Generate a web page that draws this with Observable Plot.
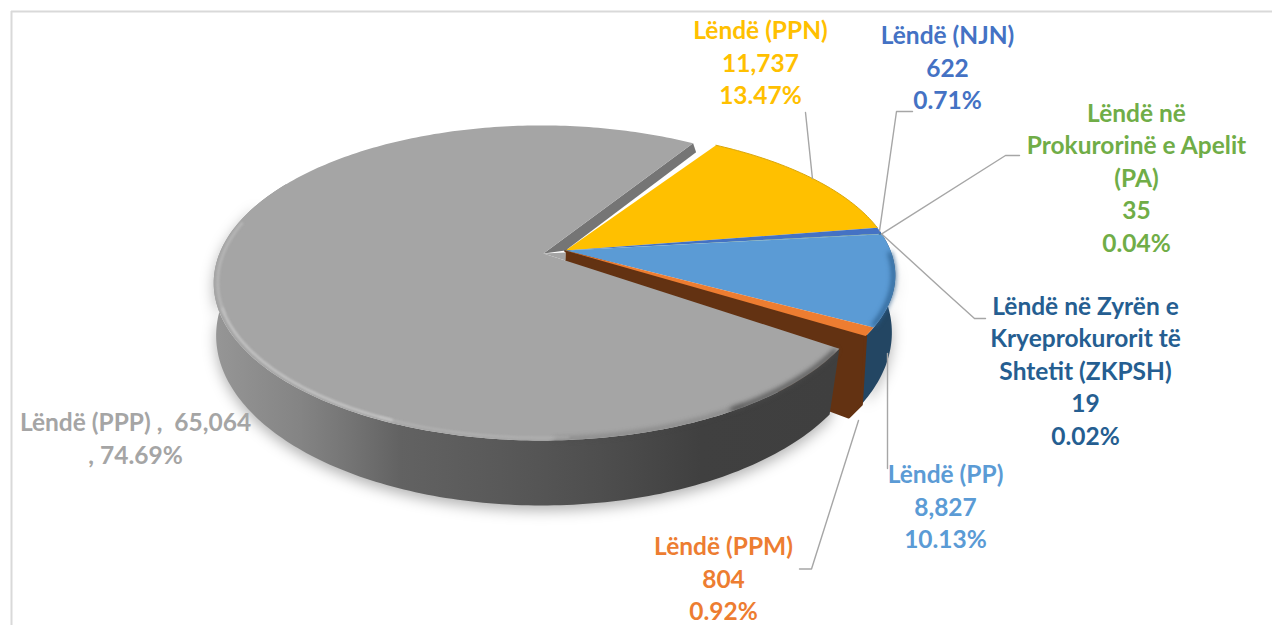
<!DOCTYPE html>
<html>
<head>
<meta charset="utf-8">
<script src="https://cdn.jsdelivr.net/npm/d3@7"></script>
<script src="https://cdn.jsdelivr.net/npm/@observablehq/plot@0.6"></script>
<style>
html,body{margin:0;padding:0;background:#fff;overflow:hidden}
.blur1{filter:blur(1.3px)}
.blur2{filter:blur(2.6px)}
.blur8{filter:blur(7px)}
</style>
</head>
<body>
<div id="chart"></div>
<script>
// ---- data
const names = ["Lëndë (PPN)", "Lëndë (NJN)", "Lëndë në\nProkurorinë e Apelit\n(PA)", "Lëndë në Zyrën e\nKryeprokurorit të\nShtetit (ZKPSH)", "Lëndë (PP)", "Lëndë (PPM)", "Lëndë (PPP)"];
const values = [11737, 622, 35, 19, 8827, 804, 65064];
const colors = ["#ffc000", "#4472c4", "#70ad47", "#255e91", "#5b9bd5", "#ed7d31", "#a5a5a5"];

// ---- layout
const firstAngle = 32;
const labelX = [760, 947, 1136, 1085, 945, 723, 135];
const labelY = [61, 66, 176, 369, 505, 577, 436.5];
const W = 1272, H = 625;
const top3d = {r: 322, s: 152, k: 0.187, dx: -2, dy: 0};
const right3d = {r: 325, s: 142, k: 0.17, dx: 0, dy: 0};
const bot3d = {r: 322.6, s: 167, k: 0.13, dx: -2, dy: 60};
const botRight3d = {...bot3d, dx: 1};
const apexRight = [565, 250];
const apexGrey = [543, 253];

const total = d3.sum(values);
let acc = firstAngle;
const slices = values.map((v, i) => {
  const a0 = acc; acc += v / total * 360;
  return {i, v, a0, a1: acc, color: colors[i]};
});

function proj(deg, rho, apex, m) {
  const t = deg * Math.PI / 180, u = rho * Math.sin(t), v = -rho * Math.cos(t), w = 1 - m.k * v;
  return {x: apex[0] + m.dx + m.r * u / w, y: apex[1] + m.dy + m.s * v / w};
}
function arc(a0, a1, apex, m, rho = 1) {
  const n = Math.max(2, Math.ceil(Math.abs(a1 - a0)));
  return d3.range(n + 1).map(j => proj(a0 + (a1 - a0) * j / n, rho, apex, m));
}
const poly = (pts, fill, extra = {}) => Plot.line(pts, {x: "x", y: "y", fill, stroke: "none", ...extra});
const curve = (pts, stroke, strokeWidth, extra = {}) => Plot.line(pts, {x: "x", y: "y", stroke, strokeWidth, ...extra});
const topSlice = (s, apex) => [{x: apex[0], y: apex[1]}, ...arc(s.a0, s.a1, apex, right3d)];
const sideBand = (a0, a1, apex, m = top3d, b = bot3d) => [...arc(a0, a1, apex, m), ...arc(a1, a0, apex, b)];

const grey = slices[6], pp = slices[4], ppm = slices[5];
const greyStart = grey.a0 + 1, greySideEnd = 300;
const greyEnd = grey.a1 + 1;

// wall of the PPM slice, exposed by the exploded grey slice
const wall = [
  {x: apexRight[0], y: apexRight[1]},
  proj(ppm.a1, 1, apexRight, right3d),
  proj(ppm.a1 - 1.5, 1, apexRight, botRight3d),
  proj(ppm.a1 + 3, 1, apexRight, botRight3d),
  {x: apexRight[0] - 2, y: apexRight[1] + 60}
];
// narrow far wall of the grey slice
const rimEnd = proj(greyEnd, 1, apexGrey, top3d);
const strip = [
  {x: apexGrey[0], y: apexGrey[1]},
  rimEnd,
  {x: rimEnd.x + 3, y: rimEnd.y + 9},
  {x: apexRight[0], y: apexRight[1]}
];
// sliver of the grey top that reaches under the apex of the other slices
const sliver = [
  {x: apexGrey[0], y: apexGrey[1]},
  {x: apexRight[0], y: apexRight[1] + 2},
  {x: apexRight[0], y: apexRight[1] + 10}
];

// leaders: elbow points from the label side to the slice rim
const mid = s => (s.a0 + s.a1) / 2;
const leaders = [
  [{x: 805, y: 112}, proj(mid(slices[0]), 1, apexRight, right3d)],
  [{x: 912, y: 111}, {x: 896, y: 111}, proj(mid(slices[1]), 1, apexRight, right3d)],
  [{x: 1019, y: 155}, {x: 1005, y: 155}, proj(mid(slices[2]), 1, apexRight, right3d)],
  [{x: 985, y: 318}, {x: 974, y: 318}, {x: 943, y: 290}, proj(mid(slices[3]), 1, apexRight, right3d)],
  [{x: 887, y: 468}, {x: 887, y: 353}],
  [{x: 799, y: 568.5}, {x: 811, y: 568.5}, {x: 858, y: 420}]
];

const labels = slices.map(s => {
  const pct = (s.v / total * 100).toFixed(2) + "%";
  const val = d3.format(",")(s.v);
  const text = s.i === 6 ? `${names[s.i]} ,  ${val}\n, ${pct}` : `${names[s.i]}\n${val}\n${pct}`;
  return {text, x: labelX[s.i], y: labelY[s.i], color: s.color};
});

const defs = () => {
  const d = d3.create("svg:defs");
  const g = d.append("linearGradient").attr("id", "greySide")
    .attr("gradientUnits", "userSpaceOnUse").attr("x1", 213).attr("x2", 835).attr("y1", 0).attr("y2", 0);
  [[213, "#969696"], [300, "#848484"], [350, "#747474"], [400, "#626262"], [500, "#595959"], [600, "#4e4e4e"], [700, "#404040"], [835, "#3f3f3f"]]
    .forEach(([x, c]) => g.append("stop").attr("offset", (x - 213) / 622).attr("stop-color", c));
  return d.node();
};

const chart = Plot.plot({
  width: W, height: H,
  margin: 0,
  x: {domain: [0, W], range: [0, W], axis: null},
  y: {domain: [0, H], range: [0, H], axis: null},
  marks: [
    defs,
    Plot.ruleX([11], {y1: 11, y2: H, stroke: "#d9d9d9", strokeWidth: 2}),
    Plot.ruleY([11], {x1: 11, x2: W, stroke: "#d9d9d9", strokeWidth: 2}),

    // soft shadow under the disc
    poly(sideBand(greyStart, 290, [apexGrey[0], apexGrey[1] + 5]), "#000", {fillOpacity: 0.3, className: "blur8"}),
    poly(sideBand(pp.a0 + 10, pp.a1, [apexRight[0] + 3, apexRight[1] + 4]), "#000", {fillOpacity: 0.3, className: "blur8"}),

    // right-hand group: side, wall, tops
    poly(sideBand(pp.a0 - 2, pp.a1 + 3, apexRight, right3d, botRight3d), "#234663"),
    poly(wall, "#633212", {stroke: "#633212", strokeWidth: 3, strokeLinejoin: "round"}),
    ...slices.slice(0, 6).map(s => poly(topSlice(s, apexRight), s.color)),
    curve(arc(pp.a0 + 8, pp.a1 - 1, apexRight, right3d, 0.995), "#2a5d8c", 4, {className: "blur2"}),
    curve(arc(slices[0].a0, slices[0].a1, apexRight, right3d), "#d9a60c", 1),

    // exploded grey slice
    poly(strip, "#757575"),
    poly(sideBand(greyStart, greySideEnd, apexGrey), "url(#greySide)"),
    poly([{x: apexGrey[0], y: apexGrey[1]}, ...arc(greyStart, greyEnd, apexGrey, top3d)], grey.color),
    poly(sliver, grey.color),
    curve(arc(greyStart + 1, 150, apexGrey, top3d, 0.995), "#4a4a4a", 4, {className: "blur2"}),
    curve(arc(148, 178, apexGrey, top3d, 0.995), "#4a4a4a", 3, {className: "blur2", strokeOpacity: 0.45}),
    curve(arc(176, 205, apexGrey, top3d, 0.988), "#c4c4c4", 2, {className: "blur1", strokeOpacity: 0.45}),
    curve(arc(203, 250, apexGrey, top3d, 0.988), "#c8c8c8", 2.5, {className: "blur1", strokeOpacity: 0.9}),
    curve(arc(248, 282, apexGrey, top3d, 0.988), "#bcbcbc", 3, {className: "blur1", strokeOpacity: 0.7}),

    // leaders
    ...leaders.map(l => curve(l, "#a6a6a6", 1.4)),

    // labels
    Plot.text(labels, {
      x: "x", y: "y", text: "text", fill: "color",
      fontFamily: "Lato", fontWeight: 700, fontSize: 24.5, lineHeight: 1.327,
      textAnchor: "middle", lineAnchor: "middle"
    })
  ]
});
document.getElementById("chart").appendChild(chart);
</script>
</body>
</html>
